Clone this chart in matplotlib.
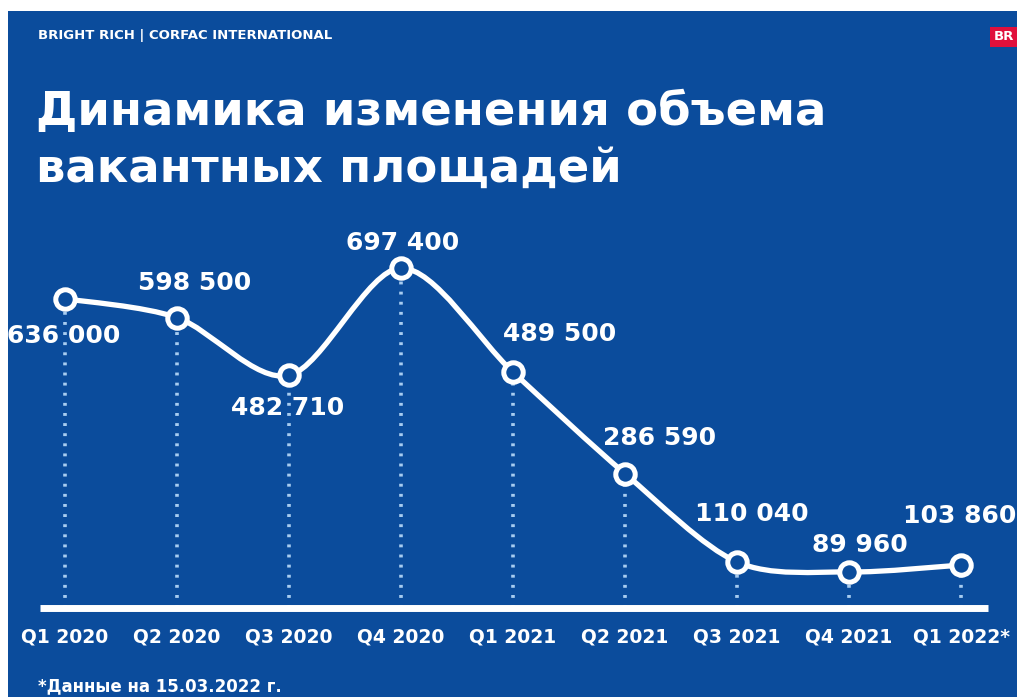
import matplotlib.pyplot as plt
import numpy as np
from matplotlib.path import Path
from matplotlib.patches import PathPatch, Rectangle

# vacant space by quarter, sq. m
quarters = ['Q1 2020', 'Q2 2020', 'Q3 2020', 'Q4 2020', 'Q1 2021',
            'Q2 2021', 'Q3 2021', 'Q4 2021', 'Q1 2022*']
vacant = [636000, 598500, 482710, 697400, 489500, 286590, 110040, 89960, 103860]
value_labels = ['636 000', '598 500', '482 710', '697 400', '489 500',
                '286 590', '110 040', '89 960', '103 860']

BLUE = '#0b4c9c'
DOT = '#a8ccf0'
plt.rcParams['font.family'] = ['DejaVu Sans']

fig = plt.figure(figsize=(10.17, 6.97), dpi=100)
fig.patch.set_facecolor('white')
fig.patches.append(Rectangle((8 / 1017, 0), 1, 1 - 11 / 697, transform=fig.transFigure,
                             facecolor=BLUE, edgecolor='none', zorder=-1))

W, H = 1017, 697
ax = fig.add_axes([40 / W, 1 - 608 / H, 948 / W, 378 / H])
ax.set_facecolor('none')
ax.set_xlim(-0.223, 8.241)
ax.set_ylim(18000, 773400)

x = np.arange(len(vacant))
y = np.array(vacant, dtype=float)

# smooth line through the points (Catmull-Rom as cubic Bezier)
k = 0.15
verts = [(x[0], y[0])]
codes = [Path.MOVETO]
for i in range(len(x) - 1):
    p0 = (x[max(i - 1, 0)], y[max(i - 1, 0)])
    p1 = (x[i], y[i])
    p2 = (x[i + 1], y[i + 1])
    p3 = (x[min(i + 2, len(x) - 1)], y[min(i + 2, len(x) - 1)])
    c1 = (p1[0] + k * (p2[0] - p0[0]), p1[1] + k * (p2[1] - p0[1]))
    c2 = (p2[0] - k * (p3[0] - p1[0]), p2[1] - k * (p3[1] - p1[1]))
    verts += [c1, c2, p2]
    codes += [Path.CURVE4] * 3
ax.add_patch(PathPatch(Path(verts, codes), facecolor='none', edgecolor='white',
                       lw=3.8, capstyle='round', zorder=3))

# dotted drop lines to the baseline
ax.vlines(x, 18000, y, colors=DOT, lw=2.6, linestyles=(0, (0.8, 2.0)), zorder=2)

ax.plot(x, y, 'o', ms=14, mfc=BLUE, mec='white', mew=3.6, zorder=4)

# baseline
ax.axhline(18000, color='white', lw=5, solid_capstyle='butt', zorder=3, clip_on=False)

offsets = [(-1, -37), (18, 35), (-1, -33), (2, 25), (47, 38),
           (35, 36), (15, 48), (11, 27), (-1, 49)]
for xi, yi, lab, off in zip(x, y, value_labels, offsets):
    ax.annotate(lab, (xi, yi), xytext=off, textcoords='offset pixels',
                ha='center', va='center', color='white', fontsize=18,
                fontweight='bold', zorder=5)

ax.set_xticks(x)
ax.set_xticklabels(quarters, color='white', fontsize=13.5, fontweight='bold')
ax.tick_params(axis='x', length=0, pad=14)
ax.set_yticks([])
for s in ax.spines.values():
    s.set_visible(False)

fig.text(38 / W, 1 - 36 / H, 'BRIGHT RICH | CORFAC INTERNATIONAL', color='white',
         fontsize=9.5, fontweight='bold', va='center', ha='left')
fig.text(1004 / W, 1 - 37 / H, 'BR', color='white', fontsize=9.5, fontweight='bold',
         va='center', ha='center',
         bbox=dict(boxstyle='square,pad=0.3', facecolor='#e0103c', edgecolor='none'))
fig.text(36 / W, 1 - 112 / H, 'Динамика изменения объема', color='white',
         fontsize=33.5, fontweight='bold', va='center', ha='left')
fig.text(36 / W, 1 - 169 / H, 'вакантных площадей', color='white',
         fontsize=33.5, fontweight='bold', va='center', ha='left')
fig.text(38 / W, 1 - 686 / H, '*Данные на 15.03.2022 г.', color='white',
         fontsize=12, fontweight='bold', va='center', ha='left')

fig.savefig('out.png', dpi=100, facecolor=fig.get_facecolor())
